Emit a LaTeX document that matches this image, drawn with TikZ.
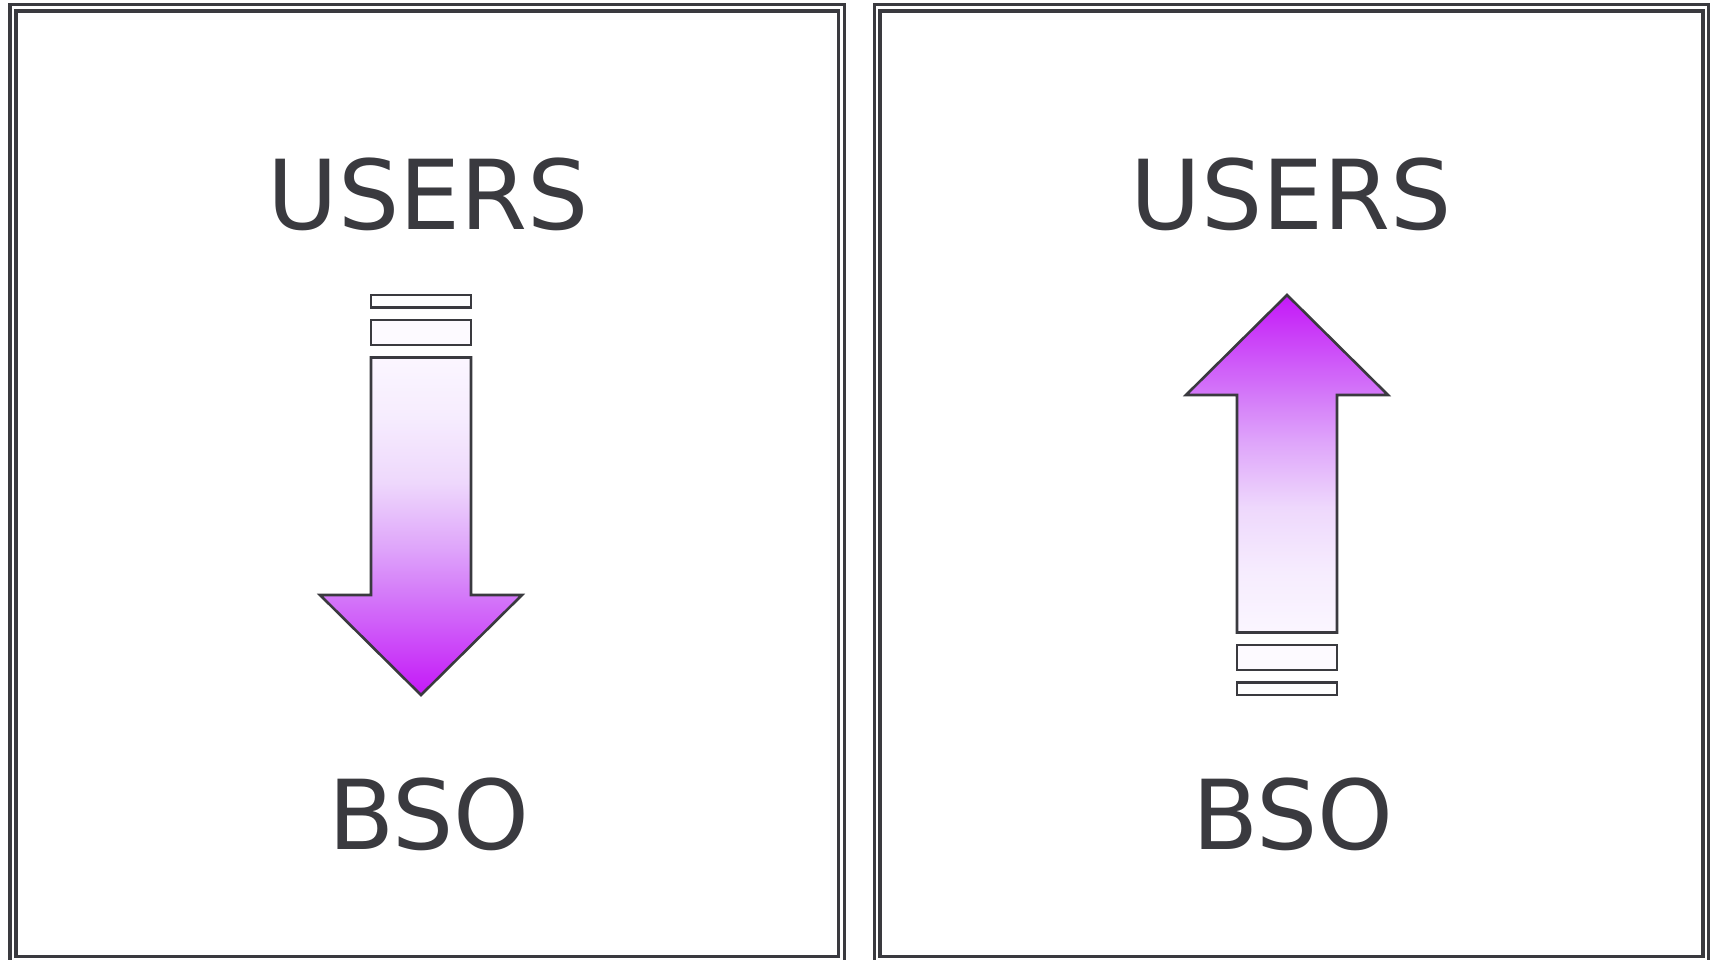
\documentclass[tikz,border=0pt]{standalone}
\usepackage{fontspec}
\setmainfont{DejaVu Sans}
\definecolor{ink}{HTML}{3A3A3F}
\definecolor{flowdeep}{HTML}{C418F8}
\definecolor{flowmid}{HTML}{D47AF9}
\definecolor{flowlift}{HTML}{DFA6FA}
\definecolor{flowsoft}{HTML}{EED8FC}
\definecolor{flowhaze}{HTML}{F6ECFE}
\definecolor{flowpale}{HTML}{FBF6FF}
\definecolor{slotfill}{HTML}{FDFAFF}
% vertical purple ramp: deep at the bottom of the shaded path, pale at its top
\pgfdeclareverticalshading{flowshade}{100bp}{color(0bp)=(flowdeep); color(25bp)=(flowdeep); color(40bp)=(flowmid); color(47bp)=(flowlift); color(56.5bp)=(flowsoft); color(66bp)=(flowhaze); color(75bp)=(flowpale); color(100bp)=(flowpale)}
\begin{document}
\begin{tikzpicture}[x=1pt,y=-1pt,
  frameline/.style={draw=ink,line width=3.2pt},
  arrowline/.style={draw=ink,line width=2.6pt,line join=miter},
  slot/.style={draw=ink,line width=2.6pt},
  word/.style={text=ink,anchor=base,inner sep=0pt,font=\fontsize{96.5}{96.5}\selectfont}]
\useasboundingbox (0,0) rectangle (1717,960);
\clip (0,0) rectangle (1717,960);

% left panel: double frame
\draw[frameline] (10,4.7) rectangle (844.5,962.5);
\draw[frameline] (16,11) rectangle (838.5,956.5);
% right panel: double frame
\draw[frameline] (874.5,4.7) rectangle (1708.5,962.5);
\draw[frameline] (880,11) rectangle (1703,956.5);

% labels
\node[word] (usersL) at (428,230) {USERS};
\node[word] (bsoL) at (429,849.3) {BSO};
\node[word] (usersR) at (1291.5,230) {USERS};
\node[word] (bsoR) at (1293,849.3) {BSO};

% downward flow: USERS -> BSO
\draw[slot,fill=white] (371,295) rectangle (471,307.5);
\draw[slot,fill=slotfill] (371,320) rectangle (471,345);
\draw[arrowline,shading=flowshade]
  (371,357.5) -- (471,357.5) -- (471,595) -- (522,595) -- (421,695)
  -- (320,595) -- (371,595) -- cycle;

% upward flow: BSO -> USERS
\draw[slot,fill=white] (1237,682.5) rectangle (1337,695);
\draw[slot,fill=slotfill] (1237,645) rectangle (1337,670);
\draw[arrowline,shading=flowshade,shading angle=180]
  (1237,632.5) -- (1337,632.5) -- (1337,395) -- (1388,395) -- (1287,295)
  -- (1186,395) -- (1237,395) -- cycle;
\end{tikzpicture}
\end{document}
